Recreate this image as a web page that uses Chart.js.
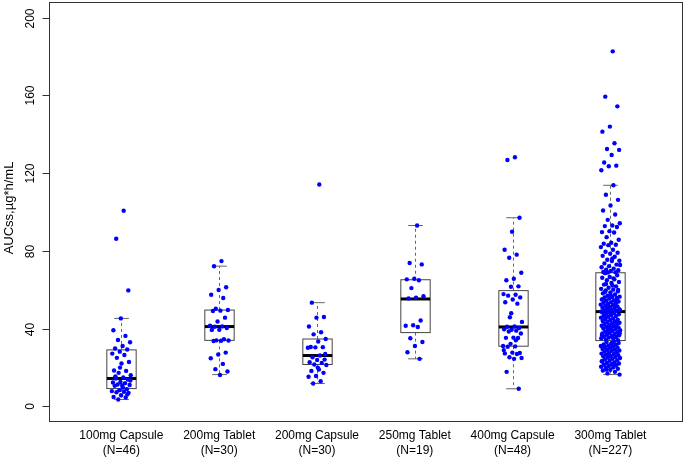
<!DOCTYPE html>
<html>
<head>
<meta charset="utf-8">
<script src="https://cdn.jsdelivr.net/npm/chart.js@4.4.0/dist/chart.umd.min.js"></script>
<style>
  html, body { margin: 0; padding: 0; background: #fff; }
  #wrap { width: 685px; height: 457px; }
</style>
</head>
<body>
<div id="wrap"><canvas id="chart" width="685" height="457"></canvas></div>
<script>
// Categories (two-line labels)
const categories = [
  ['100mg Capsule', '(N=46)'],
  ['200mg Tablet', '(N=30)'],
  ['200mg Capsule', '(N=30)'],
  ['250mg Tablet', '(N=19)'],
  ['400mg Capsule', '(N=48)'],
  ['300mg Tablet', '(N=227)']
];
const yTicks = [0, 40, 80, 120, 160, 200];
const yTitle = 'AUCss,\u00b5g*h/mL';

// Individual AUCss values
const auc100Cap = [100.7, 86.3, 59.7, 45.3, 39.2, 36.3, 34.2, 33.0, 31.1, 29.8,
  29.3, 28.2, 27.2, 26.5, 25.0, 22.9, 22.1, 18.5, 18.3, 17.3,
  16.1, 14.9, 14.4, 13.9, 12.6, 12.3, 12.0, 11.3, 11.0, 10.8,
  10.6, 8.9, 8.4, 7.9, 7.6, 7.3, 7.0, 5.8, 4.9, 4.6,
  3.6, 13.3, 9.7, 15.5, 6.3, 20.0];
const auc200Tab = [74.8, 72.1, 61.3, 59.9, 57.5, 55.8, 50.3, 49.6, 49.3, 49.1,
  45.7, 43.7, 41.6, 41.2, 41.0, 40.4, 39.5, 39.4, 34.6, 34.0,
  33.9, 33.8, 33.7, 27.7, 26.7, 24.8, 21.9, 19.2, 18.0, 16.2];
const auc200Cap = [114.2, 53.4, 46.0, 45.7, 41.1, 38.2, 37.1, 34.7, 33.4, 30.6,
  30.5, 30.4, 30.2, 26.2, 25.3, 24.1, 23.9, 22.8, 22.4, 21.6,
  21.3, 19.0, 18.3, 17.3, 15.7, 15.3, 13.0, 11.8, 27.0, 20.0];
const auc250Tab = [93.1, 73.8, 73.1, 65.7, 65.4, 64.9, 60.9, 56.7, 56.0, 55.6,
  44.2, 41.8, 41.5, 40.9, 35.1, 33.2, 31.1, 27.9, 24.5];
const auc400Cap = [128.2, 126.8, 97.1, 89.9, 80.6, 78.1, 76.5, 68.8, 65.7, 64.9,
  61.8, 61.6, 57.8, 57.5, 57.0, 56.1, 55.0, 53.6, 52.9, 45.9,
  43.5, 41.2, 41.0, 40.4, 39.5, 39.7, 39.0, 38.6, 37.5, 35.4,
  35.3, 35.2, 32.2, 31.1, 30.9, 30.7, 27.5, 27.7, 27.3, 27.0,
  25.3, 24.9, 24.5, 17.8, 9.1, 48.0, 29.0, 34.0];
const auc300Tab = [
  182.7, 159.4, 154.4, 144.0, 141.4, 135.4, 132.5, 132.0, 129.4, 125.5,
  123.9, 123.6, 121.5, 113.8, 108.9, 106.3, 103.4, 100.8, 98.8, 96.0,
  94.3, 93.1, 92.8, 92.3, 90.2, 89.7, 89.5, 87.1, 85.8, 84.2,
  83.7, 83.2, 83.0, 82.0, 80.6, 79.6, 79.1, 78.6, 77.5, 77.0,
  75.5, 75.0, 74.8, 73.6, 73.0, 72.2, 71.6, 70.9, 70.4, 70.1,
  69.7, 69.2, 69.0, 68.9, 72.8, 76.2,
  68.6, 67.5, 66.6, 66.2, 65.4, 64.9, 64.0, 63.5, 62.7, 61.8,
  61.1, 60.5, 60.1, 59.7, 59.2, 58.7, 58.2, 57.6, 57.0, 56.5,
  56.3, 56.1, 55.8, 55.5, 55.0, 54.6, 54.3, 54.0, 53.7, 53.4,
  53.1, 52.8, 52.4, 52.1, 51.8, 51.5, 51.2, 50.9, 50.6, 50.3,
  50.0, 49.8, 49.5, 49.2, 49.0, 48.9, 65.9, 63.0, 59.9, 57.3,
  55.2, 52.6, 51.0, 49.7, 62.2, 58.9, 54.8,
  48.8,
  48.5, 48.1, 47.8, 47.4, 47.0, 46.9, 46.5, 46.1, 45.7, 45.3,
  45.0, 44.7, 44.4, 44.0, 43.7, 43.4, 43.1, 42.7, 42.4, 42.1,
  41.8, 41.5, 41.3, 41.0, 40.7, 40.4, 40.1, 39.8, 39.5, 39.2,
  38.9, 38.5, 38.2, 37.9, 37.5, 37.2, 36.9, 36.6, 36.3, 36.0,
  35.7, 35.4, 35.1, 34.8, 34.4, 34.1, 47.6, 44.2, 41.1, 38.7,
  37.7, 35.9, 46.3, 43.0, 39.9, 36.8,
  33.5, 33.1, 32.7, 32.3, 31.9, 31.7, 31.3, 31.1, 30.8, 30.6,
  30.3, 30.0, 29.6, 29.3, 29.1, 28.8, 28.6, 28.2, 27.9, 27.6,
  27.2, 26.9, 26.6, 26.4, 26.0, 25.7, 25.5, 25.2, 24.9, 24.5,
  24.2, 23.8, 23.5, 23.1, 22.7, 22.4, 22.1, 21.8, 21.5, 21.2,
  20.8, 20.4, 20.1, 19.9, 19.4, 18.9, 18.5, 17.8, 17.0, 16.4,
  32.5, 30.4, 28.0, 25.9, 23.3, 21.0, 19.0];

const groups = [auc100Cap, auc200Tab, auc200Cap, auc250Tab, auc400Cap, auc300Tab];

// Box statistics
const whiskerLow  = [3.6, 16.4, 11.8, 24.5, 9.1, 16.4];
const quart1      = [9.2, 34.0, 21.6, 38.0, 31.0, 33.9];
const medians     = [14.4, 41.1, 26.2, 55.3, 40.9, 48.8];
const quart3      = [29.1, 49.6, 34.7, 65.2, 59.6, 68.8];
const whiskerHigh = [45.3, 72.2, 53.4, 93.1, 97.1, 113.8];

const FONT = '"Liberation Sans", Arial, Helvetica, sans-serif';
const BOX_HALF = 0.15;
const CAP_HALF = 0.075;
const JITTER = 0.2;

// Jittered points: fixed golden-ratio spread around each category
const points = [];
groups.forEach((vals, i) => {
  vals.forEach((v, j) => {
    const u = ((j + 1) * 0.6180339887) % 1;
    points.push({ x: i + 1 + (u - 0.5) * JITTER, y: v });
  });
});

const boxPlugin = {
  id: 'boxPlugin',
  beforeDatasetsDraw(chart) {
    const { ctx, scales: { x, y } } = chart;
    ctx.save();
    for (let i = 0; i < categories.length; i++) {
      const cx = Math.round(x.getPixelForValue(i + 1)) + 0.5;
      const hw = x.getPixelForValue(i + 1 + BOX_HALF) - x.getPixelForValue(i + 1);
      const cw = x.getPixelForValue(i + 1 + CAP_HALF) - x.getPixelForValue(i + 1);
      const pLo = y.getPixelForValue(whiskerLow[i]);
      const pQ1 = y.getPixelForValue(quart1[i]);
      const pMed = y.getPixelForValue(medians[i]);
      const pQ3 = y.getPixelForValue(quart3[i]);
      const pHi = y.getPixelForValue(whiskerHigh[i]);

      // whiskers
      ctx.strokeStyle = '#666';
      ctx.lineWidth = 1;
      ctx.setLineDash([3, 3]);
      ctx.beginPath();
      ctx.moveTo(cx, pQ3); ctx.lineTo(cx, pHi);
      ctx.moveTo(cx, pQ1); ctx.lineTo(cx, pLo);
      ctx.stroke();
      ctx.setLineDash([]);
      ctx.beginPath();
      ctx.moveTo(cx - cw, pHi); ctx.lineTo(cx + cw, pHi);
      ctx.moveTo(cx - cw, pLo); ctx.lineTo(cx + cw, pLo);
      ctx.stroke();

      // box
      ctx.strokeStyle = '#444';
      ctx.strokeRect(cx - hw, pQ3, 2 * hw, pQ1 - pQ3);

      // median
      ctx.strokeStyle = '#000';
      ctx.lineWidth = 3;
      ctx.beginPath();
      ctx.moveTo(cx - hw, pMed); ctx.lineTo(cx + hw, pMed);
      ctx.stroke();
    }
    ctx.restore();
  },
  afterDraw(chart) {
    const { ctx, chartArea: a, scales: { y } } = chart;
    ctx.save();
    // frame
    ctx.strokeStyle = '#333';
    ctx.lineWidth = 1;
    ctx.strokeRect(Math.round(a.left) + 0.5, Math.round(a.top) + 0.5,
      Math.round(a.right - a.left) - 1, Math.round(a.bottom - a.top) - 1);

    // y ticks + rotated labels
    ctx.fillStyle = '#000';
    ctx.font = '12px ' + FONT;
    ctx.textAlign = 'center';
    ctx.textBaseline = 'middle';
    const left = Math.round(a.left) + 0.5;
    yTicks.forEach(t => {
      const py = Math.round(y.getPixelForValue(t)) + 0.5;
      ctx.beginPath();
      ctx.moveTo(left - 7, py); ctx.lineTo(left, py);
      ctx.stroke();
      ctx.save();
      ctx.translate(31, py);
      ctx.rotate(-Math.PI / 2);
      ctx.fillText(String(t), 0, 0);
      ctx.restore();
    });

    // y title
    ctx.font = '13px ' + FONT;
    ctx.save();
    ctx.translate(9, 208);
    ctx.rotate(-Math.PI / 2);
    ctx.fillText(yTitle, 0, 0);
    ctx.restore();
    ctx.restore();
  }
};

new Chart(document.getElementById('chart'), {
  type: 'scatter',
  data: {
    datasets: [{
      data: points,
      backgroundColor: '#0000ff',
      borderWidth: 0,
      pointRadius: 2.2,
      pointHoverRadius: 2.2
    }]
  },
  options: {
    responsive: false,
    animation: false,
    devicePixelRatio: 1,
    layout: { padding: { top: 1, right: 1, left: 0, bottom: 0 } },
    plugins: {
      legend: { display: false },
      tooltip: { enabled: false }
    },
    scales: {
      x: {
        type: 'linear',
        min: 0.26,
        max: 6.74,
        afterBuildTicks: scale => {
          scale.ticks = categories.map((c, i) => ({ value: i + 1 }));
        },
        afterFit: scale => { scale.height = 35; },
        grid: { display: false, drawTicks: false },
        border: { display: false },
        ticks: {
          autoSkip: false,
          maxRotation: 0,
          padding: 6,
          color: '#000',
          font: { family: FONT, size: 12, lineHeight: 1.25 },
          callback: v => categories[Math.round(v) - 1]
        }
      },
      y: {
        min: -8,
        max: 208,
        afterFit: scale => { scale.width = 49; },
        grid: { display: false },
        border: { display: false },
        ticks: { display: false }
      }
    }
  },
  plugins: [boxPlugin]
});
</script>
</body>
</html>
